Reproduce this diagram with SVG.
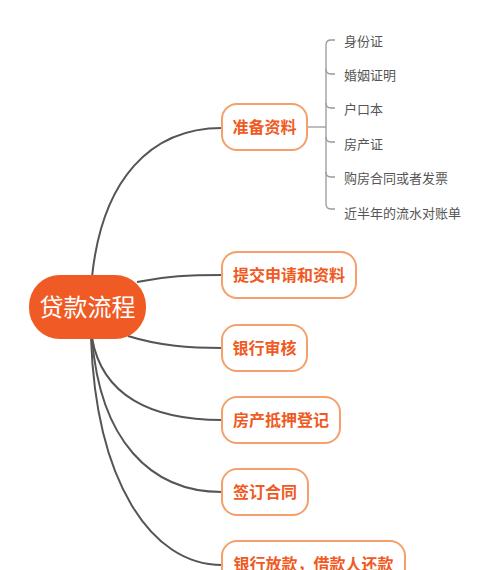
<svg xmlns="http://www.w3.org/2000/svg" width="500" height="570" viewBox="0 0 500 570">
<style>
.conn{fill:none;stroke:#555;stroke-width:2}
.leafc{fill:none;stroke:#999;stroke-width:1.3}
.box{fill:#fff;stroke:#f4a06a;stroke-width:2}
.bt{font-family:"Noto Sans CJK SC","Noto Sans",sans-serif;font-size:16px;font-weight:bold;fill:#f05a22}
.lt{font-family:"Noto Sans CJK SC","Noto Sans",sans-serif;font-size:13px;fill:#555}
.rt{font-family:"Noto Sans CJK SC","Noto Sans",sans-serif;font-size:24px;fill:#fff}
</style>
<rect width="500" height="570" fill="#fff"/>
<g id="connectors">
<path class="conn" d="M92,277 C102,180 150,128 222,128"/>
<path class="conn" d="M137,282 C165,276 190,275 222,275"/>
<path class="conn" d="M128,336 C160,346 190,348 222,348"/>
<path class="conn" d="M92,338 C102,395 150,420 222,420"/>
<path class="conn" d="M92,338 C100,440 150,492 222,492"/>
<path class="conn" d="M91,338 C96,480 150,565 222,565"/>
<path class="leafc" d="M307,127 L326,127"/>
<path class="leafc" d="M335,40 L331,40 Q326,40 326,45 L326,204 Q326,209 331,209 L335,209"/>
<path class="leafc" d="M326,69 Q326,74 331,74 L335,74"/>
<path class="leafc" d="M326,103 Q326,108 331,108 L335,108"/>
<path class="leafc" d="M326,137 Q326,142 331,142 L335,142"/>
<path class="leafc" d="M326,172 Q326,177 331,177 L335,177"/>
</g>
<g id="root">
<rect x="29" y="275" width="117" height="64" rx="31" fill="#f05a24"/>
<text class="rt" x="87.5" y="316" text-anchor="middle">贷款流程</text>
</g>
<g id="n1">
<rect class="box" x="222" y="104" width="85" height="46" rx="15"/>
<text class="bt" x="264.5" y="133" text-anchor="middle">准备资料</text>
</g>
<g id="n2">
<rect class="box" x="222" y="252" width="134" height="46" rx="15"/>
<text class="bt" x="289" y="281" text-anchor="middle">提交申请和资料</text>
</g>
<g id="n3">
<rect class="box" x="222" y="325" width="85" height="46" rx="15"/>
<text class="bt" x="264.5" y="354" text-anchor="middle">银行审核</text>
</g>
<g id="n4">
<rect class="box" x="222" y="397" width="118" height="46" rx="15"/>
<text class="bt" x="281" y="426" text-anchor="middle">房产抵押登记</text>
</g>
<g id="n5">
<rect class="box" x="222" y="469" width="86" height="46" rx="15"/>
<text class="bt" x="265" y="498" text-anchor="middle">签订合同</text>
</g>
<g id="n6">
<rect class="box" x="222" y="541" width="183" height="46" rx="15"/>
<text class="bt" x="313.5" y="570" text-anchor="middle">银行放款，借款人还款</text>
</g>
<g id="leaves">
<text class="lt" x="344" y="46">身份证</text>
<text class="lt" x="344" y="80">婚姻证明</text>
<text class="lt" x="344" y="114">户口本</text>
<text class="lt" x="344" y="149">房产证</text>
<text class="lt" x="344" y="183">购房合同或者发票</text>
<text class="lt" x="344" y="218">近半年的流水对账单</text>
</g>
</svg>
